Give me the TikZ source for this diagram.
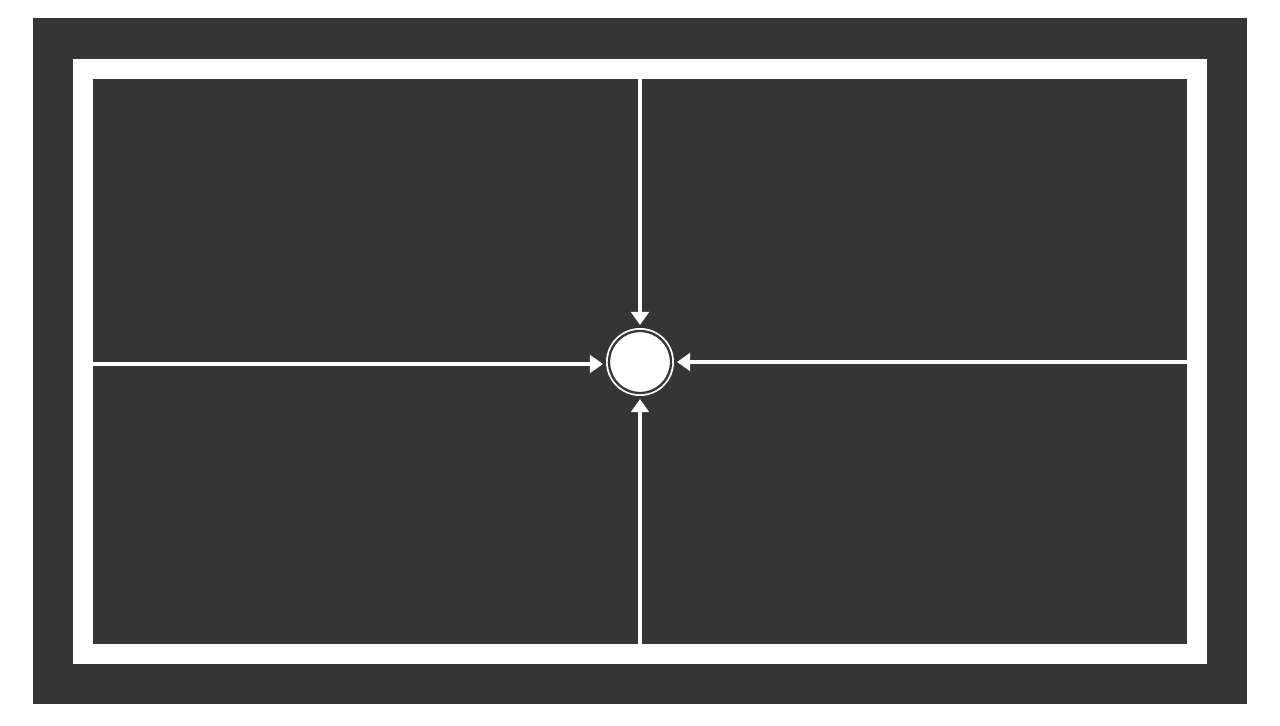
\documentclass[tikz,border=0pt]{standalone}
\usepackage{xcolor}
\usepackage{tikz}
\usetikzlibrary{arrows.meta,positioning,calc}
\definecolor{board}{RGB}{53,53,53}

\begin{document}
\begin{tikzpicture}[x=.02cm,y=-.02cm,>={Triangle[length=7.5pt,width=10pt]},
  feed/.style={white,line width=2.8pt,->,shorten >=1.5pt},
  hub/.style={circle,fill=white,inner sep=0pt,minimum size=1.36cm}]
\useasboundingbox (0,0) rectangle (1280,726);
\fill[board] (33,18) rectangle (1247,704);
\fill[white] (73,59) rectangle (1207,664);
\fill[board] (93,79) rectangle (1187,644);
\node[hub] (hub) at (640,362) {};
\draw[board,line width=1.3pt] (hub.center) circle (31);
\coordinate (top) at (640,79);
\coordinate (bottom) at (640,644);
\coordinate (left) at (93,364);
\coordinate (right) at (1187,362);
\draw[feed] (top) -- (hub.north);
\draw[feed] (bottom) -- (hub.south);
\draw[feed] (left) -- (left -| hub.west);
\draw[feed] (right) -- (right -| hub.east);
\end{tikzpicture}
\end{document}
